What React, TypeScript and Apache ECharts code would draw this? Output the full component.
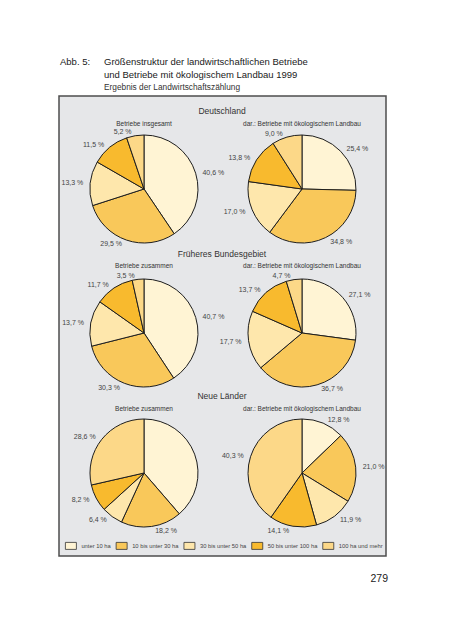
import React, { useEffect, useRef } from "react";
import * as echarts from "echarts";

const categories = [
  "unter 10 ha",
  "10 bis unter 30 ha",
  "30 bis unter 50 ha",
  "50 bis unter 100 ha",
  "100 ha und mehr",
];
const colors = ["#FFF4D4", "#F9C85A", "#FEE7AC", "#F8BA2E", "#FCD888"];

const deAll = [40.6, 29.5, 13.3, 11.5, 5.2];
const deOeko = [25.4, 34.8, 17.0, 13.8, 9.0];
const fbAll = [40.7, 30.3, 13.7, 11.7, 3.5];
const fbOeko = [27.1, 36.7, 17.7, 13.7, 4.7];
const nlAll = [38.7, 18.2, 6.4, 8.2, 28.6];
const nlOeko = [12.8, 21.0, 11.9, 14.1, 40.3];

const regionTitles = ["Deutschland", "Früheres Bundesgebiet", "Neue Länder"];
const leftSubtitles = ["Betriebe insgesamt", "Betriebe zusammen", "Betriebe zusammen"];
const rightSubtitle = "dar.: Betriebe mit ökologischem Landbau";

const FONT = "'Liberation Sans', Arial, Helvetica, sans-serif";

export default function App() {
  const ref = useRef<HTMLDivElement>(null);

  useEffect(() => {
    if (!ref.current) return;
    const chart = echarts.init(ref.current, null, { renderer: "svg" });

    const rowY = [189, 333, 473];
    const colX = [144, 302];
    const R = 54;
    const seriesData = [
      [deAll, deOeko],
      [fbAll, fbOeko],
      [nlAll, nlOeko],
    ];

    const series: any[] = [];
    seriesData.forEach((row, ri) => {
      row.forEach((vals, ci) => {
        series.push({
          type: "pie",
          center: [colX[ci], rowY[ri]],
          radius: R,
          startAngle: 90,
          clockwise: true,
          avoidLabelOverlap: false,
          silent: true,
          data: vals.map((v, i) => ({
            name: categories[i],
            value: v,
            itemStyle: { color: colors[i] },
          })),
          itemStyle: { borderColor: "#1e1e1e", borderWidth: 1 },
          label: {
            show: true,
            position: "outside",
            formatter: (p: any) => p.value.toFixed(1).replace(".", ",") + " %",
            fontSize: 7,
            color: "#444",
            fontFamily: FONT,
            distanceToLabelLine: 2,
          },
          labelLine: { show: false, length: 4, length2: 1 },
          emphasis: { disabled: true },
        });
      });
    });

    const graphics: any[] = [
      {
        type: "rect",
        z: -10,
        shape: { x: 59, y: 96, width: 327, height: 460 },
        style: { fill: "#E6E7E9", stroke: "#4d4d4d", lineWidth: 1.5 },
      },
      {
        type: "text",
        x: 60,
        y: 61,
        style: { text: "Abb. 5:", font: `9.5px ${FONT}`, fill: "#1a1a1a", verticalAlign: "middle" },
      },
      {
        type: "text",
        x: 104,
        y: 61,
        style: {
          text: "Größenstruktur der landwirtschaftlichen Betriebe",
          font: `9.5px ${FONT}`,
          fill: "#1a1a1a",
          verticalAlign: "middle",
        },
      },
      {
        type: "text",
        x: 104,
        y: 74.5,
        style: {
          text: "und Betriebe mit ökologischem Landbau 1999",
          font: `9.5px ${FONT}`,
          fill: "#1a1a1a",
          verticalAlign: "middle",
        },
      },
      {
        type: "text",
        x: 104,
        y: 87,
        style: {
          text: "Ergebnis der Landwirtschaftszählung",
          font: `8.3px ${FONT}`,
          fill: "#333",
          verticalAlign: "middle",
        },
      },
      {
        type: "text",
        x: 388,
        y: 578,
        style: { text: "279", font: `10.5px ${FONT}`, fill: "#222", align: "right", verticalAlign: "middle" },
      },
    ];

    const titleY = [111, 254, 396];
    const subY = [123, 265, 408];
    regionTitles.forEach((t, i) => {
      graphics.push({
        type: "text",
        x: 222,
        y: titleY[i],
        style: { text: t, font: `8.5px ${FONT}`, fill: "#333", align: "center", verticalAlign: "middle" },
      });
      graphics.push({
        type: "text",
        x: colX[0],
        y: subY[i],
        style: { text: leftSubtitles[i], font: `6.5px ${FONT}`, fill: "#333", align: "center", verticalAlign: "middle" },
      });
      graphics.push({
        type: "text",
        x: colX[1],
        y: subY[i],
        style: { text: rightSubtitle, font: `6.5px ${FONT}`, fill: "#333", align: "center", verticalAlign: "middle" },
      });
    });

    chart.setOption({
      animation: false,
      backgroundColor: "#ffffff",
      legend: {
        data: categories,
        left: 65,
        top: 542,
        padding: 0,
        itemWidth: 11,
        itemHeight: 7,
        itemGap: 5,
        icon: "rect",
        selectedMode: false,
        textStyle: { fontSize: 5.8, color: "#444", fontFamily: FONT },
        itemStyle: { borderColor: "#333", borderWidth: 0.8 },
      },
      graphic: graphics,
      series,
    });

    return () => chart.dispose();
  }, []);

  return (
    <div
      ref={ref}
      style={{ position: "fixed", left: 0, top: 0, width: 452, height: 640 }}
    />
  );
}
